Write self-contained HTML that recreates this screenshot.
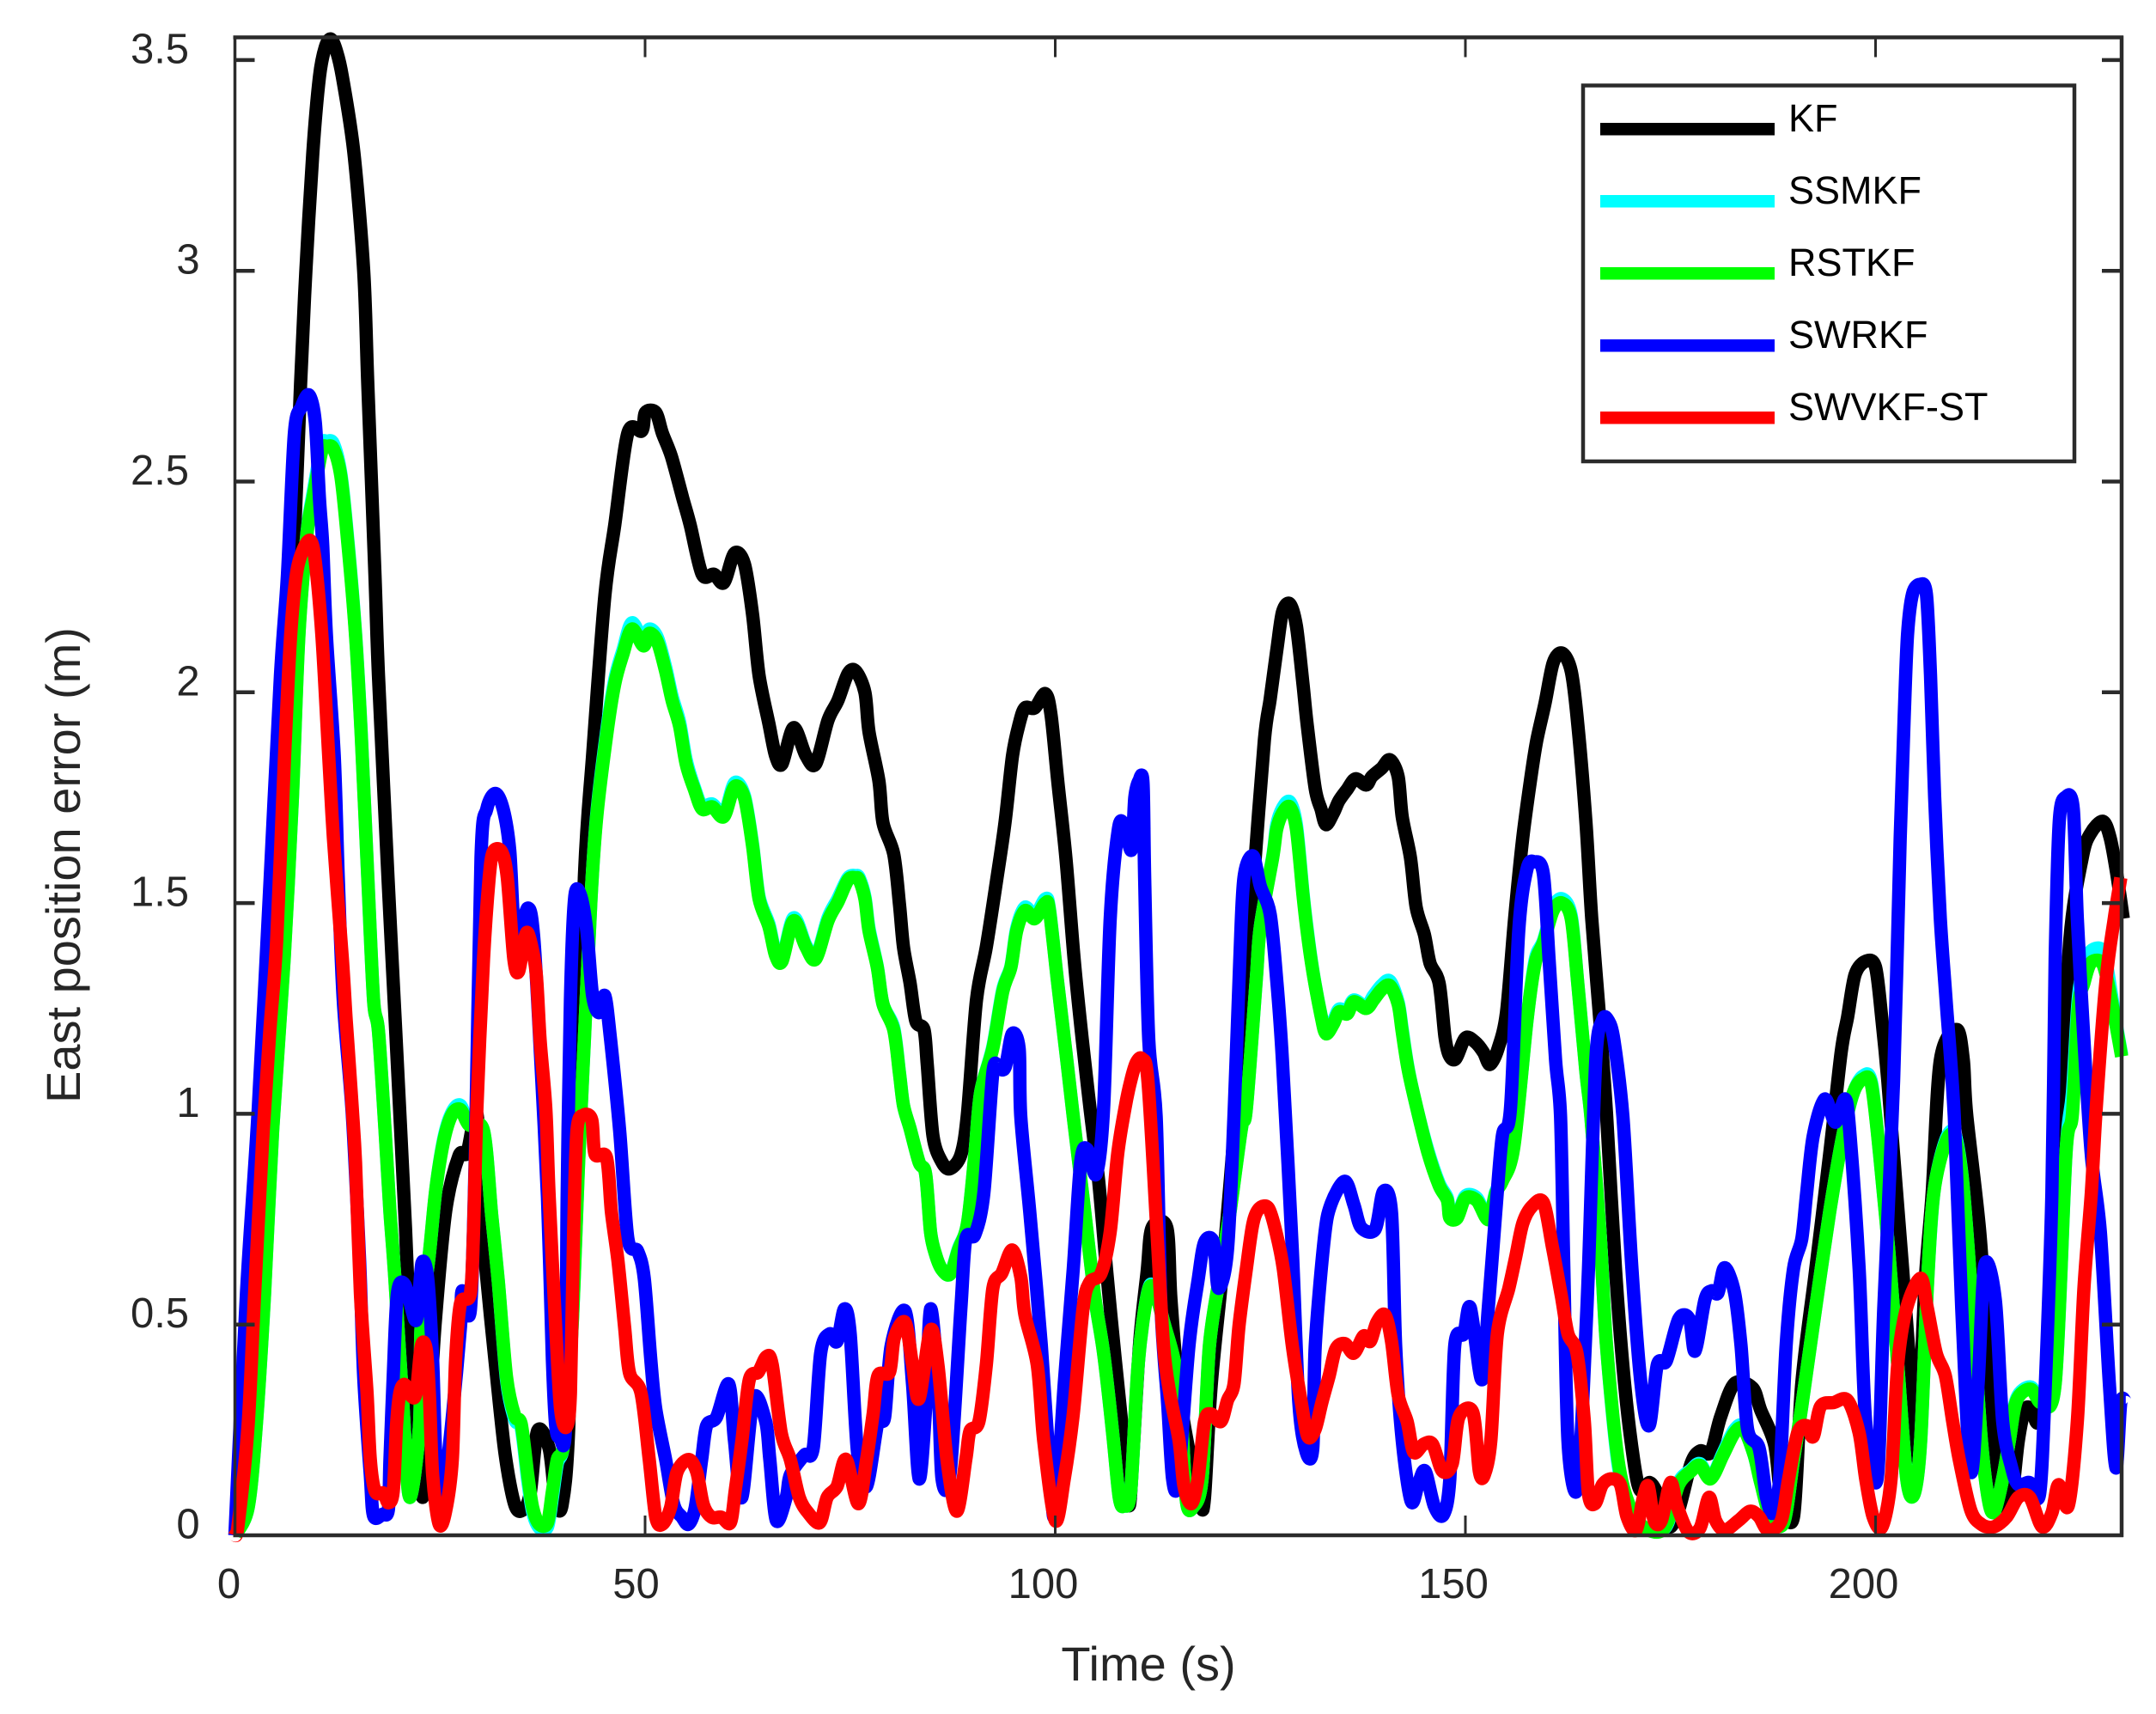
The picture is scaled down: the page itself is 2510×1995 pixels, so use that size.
<!DOCTYPE html>
<html lang="en">
<head>
<meta charset="utf-8">
<title>East position error</title>
<style>
html,body{margin:0;padding:0;background:#fff;}
svg{display:block;font-family:"Liberation Sans",sans-serif;}
</style>
</head>
<body>
<svg id="chart" xmlns="http://www.w3.org/2000/svg" width="2510" height="1995" viewBox="0 0 2510 1995">
<rect x="0" y="0" width="2510" height="1995" fill="#fff"/>
<g id="series"></g>
<g id="axes"></g>
<g id="legend"></g>
<text x="1337" y="1956" font-size="56" fill="#262626" text-anchor="middle">Time (s)</text>
<text transform="translate(93,1007) rotate(-90)" font-size="56" fill="#262626" text-anchor="middle">East position error (m)</text>
</svg>
<script>
const xTicks = [0, 50, 100, 150, 200];
const yTicks = [0, 0.5, 1, 1.5, 2, 2.5, 3, 3.5];
const xTickLabels = ['0', '50', '100', '150', '200'];
const yTickLabels = ['0', '0.5', '1', '1.5', '2', '2.5', '3', '3.5'];
const seriesNames = ['KF', 'SSMKF', 'RSTKF', 'SWRKF', 'SWVKF-ST'];

const kfPoints = [[0,0],[1.5,.25],[3,.75],[4.5,1.3],[6,1.9],[7,2.25],[8,2.73],[8.65,3.0],[9.5,3.28],[10.3,3.46],[11,3.53],[11.7,3.55],[12.4,3.52],[13.1,3.46],[14.5,3.28],[15.7,3.0],[16.2,2.73],[17.07,2.28],[17.5,2.04],[18.66,1.56],[19.6,1.196],[20.8,.728],[21.3,.495],[22.2,.2],[22.9,.09],[23.5,.22],[24.4,.5],[25.7,.77],[27.3,.9],[28.3,.908],[29.5,1.0],[30.1,.767],[30.5,.65],[31.7,.416],[32.9,.198],[34.1,.073],[35.1,.06],[36,.1],[36.9,.248],[38.3,.206],[39.1,.08],[39.9,.073],[40.7,.26],[41.6,.9],[42.6,1.56],[43.6,1.85],[45.1,2.23],[46.3,2.397],[47.9,2.615],[49.6,2.62],[50.05,2.664],[51.3,2.664],[52.1,2.615],[53.2,2.56],[54.6,2.46],[55.5,2.397],[56.95,2.28],[58.4,2.28],[59.6,2.26],[60.9,2.33],[62.1,2.305],[63.1,2.185],[63.9,2.04],[65.1,1.925],[65.9,1.85],[66.7,1.83],[68.1,1.916],[69.6,1.85],[70.8,1.83],[72.3,1.934],[73.5,1.98],[74.75,2.045],[75.7,2.05],[76.8,2.0],[77.3,1.906],[78.5,1.79],[79,1.69],[80.3,1.617],[81,1.5],[81.5,1.396],[82.3,1.31],[83,1.22],[84,1.2],[84.4,1.117],[85.1,.947],[86.2,.885],[87.2,.87],[88.5,.903],[89.3,1.0],[90.4,1.27],[91.6,1.396],[92.9,1.56],[93.9,1.694],[94.8,1.85],[95.6,1.925],[96.3,1.963],[97.5,1.963],[98.8,1.997],[99.5,1.945],[100.3,1.79],[101.3,1.607],[102.3,1.367],[103.3,1.175],[104.2,1.02],[105.3,.84],[106.3,.62],[107.3,.42],[108.4,.21],[109,.07],[109.5,.2],[110.3,.46],[111.2,.626],[111.8,.73],[113.6,.73],[114.1,.56],[115,.354],[116.3,.2],[117.7,.075],[118.2,.09],[119,.354],[120.5,.65],[122,1.0],[123.5,1.367],[124.2,1.56],[125.5,1.887],[126.2,1.983],[127,2.098],[127.7,2.19],[128.6,2.21],[129.4,2.157],[130.2,2.02],[130.7,1.925],[131.7,1.771],[132.4,1.723],[133,1.686],[133.9,1.713],[134.6,1.743],[135.6,1.77],[136.6,1.795],[137.9,1.78],[138.6,1.8],[139.8,1.82],[140.8,1.84],[141.8,1.8],[142.3,1.704],[143.3,1.608],[144,1.49],[145,1.425],[145.7,1.357],[146.8,1.31],[147.5,1.184],[148,1.14],[148.8,1.13],[150,1.18],[151.2,1.17],[152.2,1.146],[153,1.117],[154,1.156],[155,1.24],[156,1.463],[157,1.655],[158,1.8],[158.7,1.886],[159.7,1.973],[160.7,2.07],[161.8,2.093],[162.9,2.05],[163.7,1.925],[164.7,1.69],[165.4,1.463],[166.4,1.22],[167.2,1.0],[168.3,.63],[169.4,.36],[170.5,.18],[171.3,.107],[172.5,.125],[173.6,.09],[174.8,.02],[176,.06],[177.5,.17],[178.6,.2],[179.9,.197],[181.1,.28],[182.8,.36],[185,.35],[186,.297],[187.7,.215],[188.5,.09],[190,.044],[191,.36],[192.7,.63],[194.4,.903],[195.8,1.145],[196.6,1.23],[197.5,1.33],[198.8,1.362],[200,1.348],[200.8,1.22],[201.5,1.078],[202.2,.903],[203.3,.632],[204.7,.27],[205.1,.2],[206,.586],[206.9,.812],[207.9,1.127],[209.9,1.2],[210.7,1.127],[211.1,1.0],[212.7,.72],[213.8,.405],[214.6,.18],[215.7,.07],[216.6,.09],[217.4,.224],[218.2,.297],[219,.3],[219.9,.27],[221.5,.405],[222.6,1.0],[223.7,1.415],[225.2,1.608],[226.2,1.665],[227.7,1.694],[228.6,1.655],[229.4,1.57],[230.2,1.463]];

const ssmkfPoints = [[0,0],[1.6,.065],[2.6,.26],[3.6,.57],[4.6,.96],[6,1.37],[7,1.75],[7.8,2.14],[8.8,2.38],[9.5,2.47],[10.6,2.585],[11.2,2.595],[12,2.59],[12.9,2.52],[13.7,2.375],[14.7,2.14],[15.4,1.9],[16.2,1.56],[16.9,1.27],[17.5,1.196],[18.3,.96],[18.9,.767],[19.5,.61],[20.5,.3],[21.3,.09],[22.5,.26],[22.7,.495],[23.7,.667],[24.5,.822],[25.5,.945],[26.5,1.005],[27.5,1.02],[28.5,.975],[30.3,.96],[31.3,.76],[32.1,.603],[33.1,.37],[34.1,.275],[34.9,.255],[35.7,.13],[36.3,.055],[37.1,.018],[38.1,.02],[38.7,.09],[39.3,.17],[40.1,.222],[41.1,.495],[41.9,.885],[42.6,1.175],[43.4,1.51],[44.1,1.71],[45.3,1.905],[46.3,2.03],[47.3,2.1],[48.4,2.165],[49.8,2.12],[50.5,2.15],[51.5,2.13],[52.5,2.06],[53.3,1.99],[54.2,1.93],[55,1.84],[56,1.775],[56.95,1.73],[58.2,1.735],[59.6,1.71],[60.9,1.785],[62.1,1.755],[63.1,1.64],[63.9,1.515],[65.1,1.45],[65.9,1.38],[66.7,1.365],[68.1,1.465],[69.6,1.4],[70.8,1.37],[72.3,1.465],[73.5,1.51],[74.75,1.56],[75.7,1.565],[76.1,1.56],[76.8,1.515],[77.3,1.44],[78.3,1.35],[79,1.26],[80.3,1.205],[81,1.1],[81.5,1.02],[82.3,.965],[83.4,.885],[84.2,.857],[84.8,.72],[85.4,.667],[86.2,.63],[87.2,.62],[88.2,.68],[89.3,.74],[90.2,.903],[90.9,1.05],[92.4,1.16],[93.6,1.295],[94.6,1.35],[95.3,1.44],[96.3,1.49],[97.5,1.47],[98.8,1.51],[99.3,1.485],[100.3,1.31],[101.3,1.146],[102.2,.993],[103.6,.766],[104.8,.568],[105.9,.432],[107,.243],[107.8,.09],[108.4,.07],[109.2,.107],[110.1,.405],[111.2,.57],[112,.59],[113.3,.5],[114.6,.405],[115.4,.27],[116,.08],[116.8,.067],[117.9,.134],[118.8,.45],[120.2,.63],[121.3,.766],[122.7,.966],[123.3,1.013],[124.5,1.318],[125,1.444],[126.5,1.61],[127,1.685],[127.7,1.725],[128.6,1.74],[129.4,1.685],[130.2,1.525],[130.7,1.44],[131.4,1.34],[132.4,1.235],[133,1.195],[133.9,1.22],[134.6,1.248],[135.6,1.245],[136.4,1.27],[137.9,1.255],[138.8,1.28],[139.8,1.305],[140.8,1.315],[141.8,1.265],[142.3,1.2],[143,1.11],[144,1.02],[145.4,.915],[146.8,.835],[147.8,.8],[148.1,.755],[149,.755],[150,.805],[151.4,.8],[152.8,.75],[153.7,.815],[154.5,.845],[155.9,.925],[157.5,1.22],[158.5,1.365],[159.5,1.41],[160.7,1.49],[161.8,1.51],[162.9,1.47],[163.7,1.31],[164.7,1.098],[165.3,.993],[166.4,.72],[167.2,.45],[168.6,.17],[170,.06],[171.7,.018],[173.6,.012],[174.7,.03],[176,.125],[177.5,.155],[178.6,.17],[179.9,.136],[181.4,.195],[182.8,.25],[183.9,.258],[185.2,.19],[186,.125],[187.2,.044],[188.8,.03],[190,.18],[191,.306],[192.7,.54],[194.4,.766],[196,.947],[197.3,1.05],[198.5,1.09],[199.5,1.075],[200.5,.903],[201.6,.677],[202.7,.405],[203.8,.134],[204.7,.098],[205.5,.224],[206.3,.586],[207.1,.812],[208.5,.935],[209.6,.955],[210.5,.86],[211.3,.677],[212.1,.45],[212.9,.224],[213.8,.08],[214.5,.057],[215.5,.134],[216.3,.224],[217.2,.325],[218.9,.352],[220.2,.32],[221.9,.36],[223.2,.903],[224,1.05],[224.7,1.27],[225.4,1.35],[226.2,1.385],[227.4,1.392],[228.1,1.36],[229.1,1.24],[230,1.14]];

const rstkfPoints = [[0,0],[1.6,.065],[2.6,.26],[3.6,.57],[4.6,.96],[6,1.367],[7,1.75],[7.8,2.136],[8.8,2.377],[9.5,2.46],[10.6,2.573],[11.2,2.583],[12,2.578],[12.9,2.514],[13.7,2.368],[14.7,2.136],[15.4,1.896],[16.2,1.56],[16.9,1.27],[17.5,1.196],[18.3,.96],[18.9,.767],[19.5,.61],[20.5,.3],[21.3,.09],[22.5,.26],[22.7,.495],[23.7,.667],[24.5,.822],[25.5,.94],[26.5,1.0],[27.5,1.01],[28.5,.974],[30.3,.96],[31.3,.76],[32.1,.603],[33.1,.377],[34.1,.284],[34.9,.264],[35.7,.143],[36.3,.065],[37.1,.026],[38.1,.03],[38.7,.104],[39.3,.18],[40.1,.222],[41.1,.495],[41.9,.885],[42.6,1.175],[43.4,1.51],[44.1,1.704],[45.3,1.896],[46.3,2.02],[47.3,2.09],[48.4,2.15],[49.8,2.11],[50.5,2.14],[51.5,2.12],[52.5,2.05],[53.3,1.98],[54.2,1.92],[55,1.83],[56,1.77],[56.95,1.723],[58.2,1.728],[59.6,1.705],[60.9,1.776],[62.1,1.75],[63.1,1.636],[63.9,1.51],[65.1,1.444],[65.9,1.376],[66.7,1.362],[68.1,1.458],[69.6,1.396],[70.8,1.367],[72.3,1.458],[73.5,1.502],[74.75,1.555],[75.7,1.56],[76.1,1.555],[76.8,1.51],[77.3,1.434],[78.3,1.348],[79,1.26],[80.3,1.2],[81,1.098],[81.5,1.02],[82.3,.965],[83.4,.885],[84.2,.857],[84.8,.72],[85.4,.667],[86.2,.63],[87.2,.62],[88.2,.677],[89.3,.74],[90.2,.903],[90.9,1.05],[92.4,1.156],[93.6,1.29],[94.6,1.348],[95.3,1.434],[96.3,1.482],[97.5,1.463],[98.8,1.5],[99.3,1.482],[100.3,1.31],[101.3,1.146],[102.2,.993],[103.6,.766],[104.8,.568],[105.9,.432],[107,.243],[107.8,.09],[108.4,.07],[109.2,.107],[110.1,.405],[111.2,.568],[112,.586],[113.3,.5],[114.6,.405],[115.4,.27],[116,.08],[116.8,.067],[117.9,.134],[118.8,.45],[120.2,.63],[121.3,.766],[122.7,.966],[123.3,1.013],[124.5,1.318],[125,1.444],[126.5,1.607],[127,1.675],[127.7,1.713],[128.6,1.728],[129.4,1.675],[130.2,1.52],[130.7,1.434],[131.4,1.338],[132.4,1.233],[133,1.19],[133.9,1.213],[134.6,1.242],[135.6,1.237],[136.4,1.266],[137.9,1.25],[138.8,1.27],[139.8,1.295],[140.8,1.304],[141.8,1.26],[142.3,1.194],[143,1.107],[144,1.02],[145.4,.91],[146.8,.83],[147.8,.795],[148.1,.753],[149,.753],[150,.8],[151.4,.794],[152.8,.749],[153.7,.812],[154.5,.84],[155.9,.92],[157.5,1.22],[158.5,1.357],[159.5,1.406],[160.7,1.482],[161.8,1.5],[162.9,1.463],[163.7,1.31],[164.7,1.098],[165.3,.993],[166.4,.72],[167.2,.45],[168.6,.18],[170,.07],[171.7,.02],[173.6,.008],[174.7,.034],[176,.12],[177.5,.152],[178.6,.166],[179.9,.134],[181.4,.19],[182.8,.243],[183.9,.252],[185.2,.19],[186,.125],[187.2,.044],[188.8,.03],[190,.18],[191,.306],[192.7,.54],[194.4,.766],[196,.947],[197.3,1.05],[198.5,1.083],[199.5,1.069],[200.5,.903],[201.6,.677],[202.7,.405],[203.8,.134],[204.7,.098],[205.5,.224],[206.3,.586],[207.1,.812],[208.5,.93],[209.6,.947],[210.5,.857],[211.3,.677],[212.1,.45],[212.9,.224],[213.8,.08],[214.5,.057],[215.5,.134],[216.3,.224],[217.2,.32],[218.9,.347],[220.2,.315],[221.9,.36],[223.2,.903],[224,1.0],[224.7,1.25],[225.4,1.31],[226.2,1.357],[227.4,1.362],[228.1,1.33],[229.1,1.233],[230,1.136]];

const swrkfPoints = [[0,0],[1.4,.573],[2.85,1.013],[4.3,1.56],[5.55,2.04],[6.4,2.277],[7.25,2.614],[8.1,2.677],[9.05,2.705],[9.8,2.64],[10.3,2.46],[10.7,2.35],[11.15,2.136],[12.1,1.85],[12.6,1.56],[13.2,1.27],[14.3,1.0],[15.2,.65],[15.7,.377],[16.5,.143],[16.9,.046],[18,.05],[18.7,.06],[18.9,.18],[19.3,.377],[19.8,.573],[20.7,.595],[21.9,.513],[22.3,.533],[22.8,.646],[23.5,.61],[24.1,.416],[24.5,.18],[25.1,.043],[25.7,.135],[26.6,.3],[27.5,.495],[27.7,.58],[28.7,.534],[29.3,.9],[30,1.608],[30.7,1.723],[31.75,1.76],[32.7,1.723],[33.5,1.626],[34.2,1.415],[35.7,1.488],[36.4,1.425],[37.1,1.196],[38.1,.8],[38.7,.416],[39.1,.26],[39.6,.233],[40.3,.26],[40.5,.806],[40.9,1.27],[41.4,1.51],[42.1,1.52],[42.9,1.434],[43.6,1.28],[44.4,1.24],[45.1,1.28],[45.8,1.175],[46.9,.96],[47.9,.705],[49.1,.674],[49.9,.61],[50.7,.416],[51.3,.3],[52.5,.18],[53.5,.073],[54.5,.043],[55.3,.026],[56.1,.065],[56.9,.18],[57.5,.26],[58.7,.28],[60.2,.359],[60.9,.224],[61.8,.09],[63.2,.324],[64.7,.27],[65.2,.18],[66,.035],[67.2,.09],[67.7,.143],[69.4,.19],[70.5,.207],[71.4,.432],[72.5,.478],[73.4,.46],[74.3,.537],[75,.478],[75.9,.197],[77,.116],[78.4,.27],[79.2,.28],[80,.45],[81.7,.532],[82.6,.36],[83.4,.134],[84.2,.3],[84.8,.537],[85.7,.36],[86.2,.134],[87.2,.15],[88.5,.54],[89.1,.703],[90.2,.713],[91.3,.812],[92.4,1.098],[93.1,1.107],[93.9,1.11],[94.75,1.19],[95.6,1.155],[95.8,.993],[96.9,.766],[98.3,.45],[99.4,.134],[100,.053],[101.1,.36],[102.2,.632],[103.1,.885],[103.9,.916],[105,.857],[105.9,1.013],[106.7,1.463],[107.7,1.675],[108.4,1.684],[109.3,1.626],[109.7,1.75],[110.2,1.79],[110.7,1.785],[110.9,1.56],[111.4,1.175],[112.3,.993],[112.9,.54],[113.7,.315],[114.3,.134],[115,.134],[116.3,.45],[117.4,.604],[118.2,.695],[119.3,.695],[119.9,.586],[121,.677],[121.8,1.0],[122.5,1.367],[123,1.56],[124.1,1.612],[125,1.54],[126.2,1.474],[127,1.318],[127.7,1.127],[128.9,.677],[129.7,.315],[130.6,.197],[131.4,.207],[131.7,.45],[132.8,.703],[133.6,.785],[135.3,.84],[136.4,.785],[137.3,.73],[139,.726],[140,.816],[141,.766],[141.5,.45],[142.3,.224],[143.4,.08],[144.3,.125],[145.1,.152],[146.2,.07],[147.3,.048],[148.1,.134],[148.7,.45],[149.8,.478],[150.6,.54],[152,.369],[152.8,.54],[153.7,.766],[154.5,.947],[155.5,1.013],[156.5,1.434],[157.5,1.58],[158.4,1.598],[159.5,1.57],[160.2,1.367],[161,1.127],[161.6,.993],[162,.632],[162.5,.224],[163.5,.103],[164.2,.27],[165,.632],[165.9,1.127],[166.7,1.222],[167.4,1.222],[168.1,1.175],[169.2,.993],[170.3,.632],[171.4,.36],[172.4,.26],[173.4,.405],[174.5,.414],[176,.513],[177.3,.513],[178,.437],[179.2,.559],[180,.58],[180.8,.575],[181.6,.635],[182.8,.577],[183.6,.45],[184.4,.252],[185.8,.207],[186.7,.09],[187.5,.053],[188.3,.134],[189.1,.45],[190,.632],[191,.703],[191.6,.812],[192.4,.947],[193.8,1.035],[195.1,.98],[196.3,1.035],[196.9,.947],[198,.632],[198.8,.27],[200.2,.134],[201,.54],[202.2,1.078],[203,1.655],[203.5,1.945],[203.9,2.136],[204.5,2.233],[205.4,2.256],[206.2,2.233],[206.7,2.04],[207.2,1.752],[207.9,1.463],[208.6,1.27],[209.6,.993],[210.5,.54],[211.6,.152],[212.5,.36],[213.3,.64],[214.6,.559],[215.5,.27],[216.6,.16],[217.4,.12],[218.8,.125],[220,.098],[220.7,.36],[221.5,.812],[221.9,1.367],[222.4,1.694],[223.2,1.752],[224.1,1.723],[224.6,1.463],[225.4,1.175],[226.3,.903],[227.4,.72],[228.5,.36],[229.3,.16],[229.9,.315],[230.5,.315]];

const swvkfStPoints = [[0,0],[.4,.026],[1.6,.26],[2.4,.573],[3.45,.96],[4.25,1.196],[5.1,1.415],[6.05,1.85],[6.8,2.136],[7.5,2.28],[8.3,2.338],[9.2,2.36],[9.8,2.31],[10.6,2.136],[11.3,1.896],[12,1.656],[13.1,1.367],[13.56,1.223],[13.9,1.13],[14.3,1.013],[14.7,.885],[15.3,.573],[16.1,.338],[16.5,.18],[17.1,.104],[18.1,.1],[18.7,.077],[19.3,.104],[19.7,.26],[20.1,.338],[20.7,.358],[21.5,.33],[22.1,.338],[22.7,.448],[23.3,.444],[23.7,.338],[24.1,.143],[24.9,.026],[25.7,.058],[26.5,.18],[26.9,.416],[27.5,.55],[28.7,.573],[29.1,.728],[29.5,1.013],[30.3,1.367],[31,1.56],[31.5,1.622],[32.5,1.622],[33.2,1.56],[34,1.367],[34.6,1.338],[35.3,1.415],[35.8,1.425],[36.7,1.338],[37.2,1.175],[37.9,1.013],[38.3,.806],[39.1,.495],[39.7,.3],[40.4,.257],[40.9,.338],[41.3,.728],[41.7,.96],[42.5,.997],[43.5,.986],[43.9,.904],[45.3,.896],[45.9,.767],[46.7,.65],[47.5,.495],[48.1,.385],[49.5,.338],[50.5,.18],[51.3,.043],[52.1,.026],[53.1,.065],[53.9,.15],[55.3,.18],[56.3,.15],[57.1,.073],[58.1,.043],[59.3,.043],[60.4,.03],[61,.107],[61.8,.224],[62.7,.369],[63.8,.387],[64.8,.424],[65.5,.405],[66.6,.243],[67.7,.18],[68.8,.09],[69.9,.053],[71.3,.03],[72.2,.09],[73.4,.116],[74.5,.18],[76,.075],[77,.18],[77.8,.288],[78.4,.379],[79.8,.387],[80.4,.469],[81.7,.505],[82.6,.405],[83.4,.324],[84.8,.487],[85.7,.405],[86.8,.18],[88,.057],[89.1,.18],[89.6,.247],[90.7,.27],[91.6,.405],[92.4,.586],[93.5,.622],[94.75,.677],[95.8,.613],[96.3,.523],[97.8,.405],[98.6,.224],[100,.035],[101.1,.134],[102.2,.288],[103.4,.54],[104.2,.6],[105.6,.622],[106.7,.72],[107.6,.903],[108.5,1.013],[109.2,1.078],[109.9,1.122],[110.6,1.13],[111.3,1.078],[112.4,.72],[113.2,.45],[114,.333],[115.1,.224],[115.7,.116],[116.6,.075],[117.4,.134],[118.2,.27],[119,.288],[120.2,.27],[121,.32],[121.8,.36],[122.4,.496],[123.3,.632],[124.1,.74],[124.9,.776],[126,.776],[126.9,.72],[127.8,.632],[128.9,.45],[130,.315],[130.8,.234],[131.7,.252],[132.5,.315],[133.4,.379],[134.2,.442],[135.3,.455],[136.4,.432],[137.6,.473],[138.4,.46],[139.2,.505],[140.2,.523],[141,.46],[141.8,.333],[142.9,.27],[143.7,.197],[144.9,.216],[146,.216],[147.2,.152],[148.4,.17],[149.2,.28],[150.9,.292],[151.7,.152],[152.3,.143],[153.1,.224],[153.9,.478],[155.3,.586],[156.1,.658],[157,.74],[158.1,.78],[159.5,.79],[160.6,.685],[161.7,.568],[162.5,.478],[163.6,.432],[164.5,.27],[165,.098],[165.8,.075],[166.7,.12],[167.8,.134],[168.9,.12],[169.7,.044],[170.8,.012],[171.7,.09],[172.3,.116],[173,.035],[173.9,.035],[175,.125],[175.8,.07],[177.2,.008],[178.6,.017],[179.7,.09],[180.5,.035],[181.6,.012],[183.3,.035],[184.7,.057],[185.8,.044],[186.9,.012],[188.5,.035],[189.4,.134],[190.5,.243],[191.6,.26],[192.4,.234],[193.3,.306],[194.9,.315],[196.6,.32],[198,.243],[198.8,.134],[199.7,.044],[200.8,.02],[201.9,.134],[202.7,.405],[203.8,.54],[205.5,.61],[206.3,.54],[207.4,.432],[208.5,.379],[209.4,.27],[210.2,.18],[211.6,.06],[212.9,.026],[214.4,.02],[216,.044],[217.4,.09],[218.8,.09],[220.3,.02],[221.5,.053],[222.3,.12],[223.5,.07],[224.6,.27],[225.4,.586],[226.3,.812],[226.9,1.013],[228.1,1.318],[229.1,1.463],[229.9,1.56]];

const seriesColors = ['#000000', '#00ffff', '#00ff00', '#0000ff', '#ff0000'];
const seriesData = [kfPoints, ssmkfPoints, rstkfPoints, swrkfPoints, swvkfStPoints];

const svgNS = 'http://www.w3.org/2000/svg';
const plotLeft = 273.5, plotRight = 2470, plotTop = 43.5, plotBottom = 1787;
const xMax = 230, yPerUnit = 490.6;
function xScale(t) { return plotLeft + t * (plotRight - plotLeft) / xMax; }
function yScale(v) { return plotBottom - v * yPerUnit; }

function smoothPath(points) {
  const p = points.map(function (d) { return [xScale(d[0]), yScale(d[1])]; });
  let out = 'M' + p[0][0].toFixed(1) + ' ' + p[0][1].toFixed(1);
  for (let i = 0; i < p.length - 1; i++) {
    const a = p[Math.max(i - 1, 0)], b = p[i], c = p[i + 1], d = p[Math.min(i + 2, p.length - 1)];
    const c1x = b[0] + (c[0] - a[0]) / 6.5, c1y = b[1] + (c[1] - a[1]) / 6.5;
    const c2x = c[0] - (d[0] - b[0]) / 6.5, c2y = c[1] - (d[1] - b[1]) / 6.5;
    out += 'C' + c1x.toFixed(1) + ' ' + c1y.toFixed(1) + ' ' + c2x.toFixed(1) + ' ' + c2y.toFixed(1) + ' ' + c[0].toFixed(1) + ' ' + c[1].toFixed(1);
  }
  return out;
}

const seriesGroup = document.getElementById('series');
seriesData.forEach(function (points, i) {
  const el = document.createElementNS(svgNS, 'path');
  
  
  el.setAttribute('d', smoothPath(points));
  el.setAttribute('fill', 'none');
  el.setAttribute('stroke', seriesColors[i]);
  el.setAttribute('stroke-width', '15.5');
  el.setAttribute('stroke-linejoin', 'round');
  seriesGroup.appendChild(el);
});

const axesGroup = document.getElementById('axes');
const axisColor = '#2b2b2b';
function line(parent, name, x1, y1, x2, y2, w) {
  const el = document.createElementNS(svgNS, 'line');
  
  
  el.setAttribute('x1', x1);
  el.setAttribute('y1', y1);
  el.setAttribute('x2', x2);
  el.setAttribute('y2', y2);
  el.setAttribute('stroke', axisColor);
  el.setAttribute('stroke-width', w);
  parent.appendChild(el);
}
function label(parent, name, x, y, size, fill, anchor, str) {
  const el = document.createElementNS(svgNS, 'text');
  
  
  el.setAttribute('x', x);
  el.setAttribute('y', y);
  el.setAttribute('font-size', size);
  el.setAttribute('fill', fill);
  el.setAttribute('text-anchor', anchor);
  el.textContent = str;
  parent.appendChild(el);
}
line(axesGroup, 'axis-left', plotLeft, plotTop - 2, plotLeft, plotBottom + 2, 3.5);
line(axesGroup, 'axis-right', plotRight, plotTop - 2, plotRight, plotBottom + 2, 4.5);
line(axesGroup, 'axis-top', plotLeft - 2, plotTop, plotRight + 2, plotTop, 4.5);
line(axesGroup, 'axis-bottom', plotLeft - 2, plotBottom, plotRight + 2, plotBottom, 4.5);
xTicks.forEach(function (t, i) {
  const x = xScale(t);
  if (t > 0) {
    line(axesGroup, 'x-tick-bottom-' + t, x, plotBottom, x, plotBottom - 23, 3);
    line(axesGroup, 'x-tick-top-' + t, x, plotTop, x, plotTop + 23, 3);
  }
  const n = xTickLabels[i].length;
  label(axesGroup, 'x-tick-label-' + t, x - (3.5 + 3.5 * n), 1860, 49, '#262626', 'middle', xTickLabels[i]);
});
yTicks.forEach(function (v, i) {
  const y = yScale(v);
  if (v > 0) {
    line(axesGroup, 'y-tick-left-' + v, plotLeft, y, plotLeft + 23, y, 4.5);
    line(axesGroup, 'y-tick-right-' + v, plotRight, y, plotRight - 23, y, 4.5);
  }
  const cx = yTickLabels[i].length > 1 ? 186 : 219;
  label(axesGroup, 'y-tick-label-' + v, cx, y + 3.5, 49, '#262626', 'middle', yTickLabels[i]);
});

const legendGroup = document.getElementById('legend');
const legendBox = document.createElementNS(svgNS, 'rect');


legendBox.setAttribute('x', '1843');
legendBox.setAttribute('y', '99.5');
legendBox.setAttribute('width', '572');
legendBox.setAttribute('height', '437.5');
legendBox.setAttribute('fill', '#fff');
legendBox.setAttribute('stroke', axisColor);
legendBox.setAttribute('stroke-width', '4.5');
legendGroup.appendChild(legendBox);
seriesNames.forEach(function (name, i) {
  const sample = document.createElementNS(svgNS, 'rect');
  
  
  sample.setAttribute('x', '1863');
  sample.setAttribute('y', 143 + i * 84);
  sample.setAttribute('width', '203');
  sample.setAttribute('height', '14.5');
  sample.setAttribute('fill', seriesColors[i]);
  legendGroup.appendChild(sample);
  label(legendGroup, 'legend-label-' + name.toLowerCase(), 2082, 153 + i * 84, 45, '#000', 'start', name);
});
</script>
</body>
</html>
